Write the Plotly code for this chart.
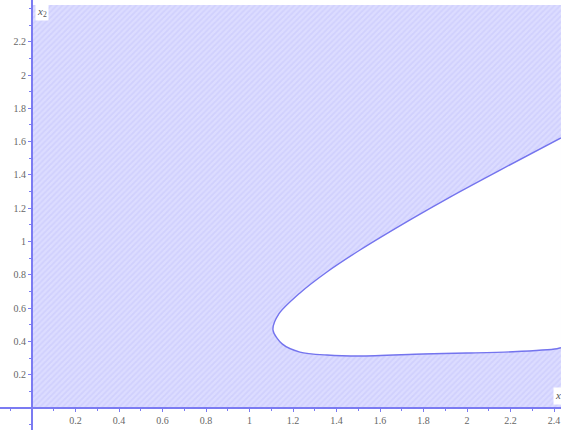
import plotly.graph_objects as go

# Boundary of the excluded (white) region:
# lower branch (right -> nose) then upper branch (nose -> right)
boundary_x = [2.432, 2.414, 2.211, 2.0, 1.798, 1.508, 1.356, 1.232, 1.150, 1.108,
              1.135, 1.232, 1.356, 1.508, 1.738, 1.922, 2.152, 2.432]
boundary_y = [0.362, 0.356, 0.338, 0.330, 0.324, 0.312, 0.318, 0.336, 0.385, 0.468,
              0.565, 0.691, 0.817, 0.949, 1.130, 1.267, 1.429, 1.622]

x_min, x_max = 0.0, 2.432
y_min, y_max = 0.0, 2.42

x_ticks = [0.2, 0.4, 0.6, 0.8, 1, 1.2, 1.4, 1.6, 1.8, 2, 2.2, 2.4]
y_ticks = [0.2, 0.4, 0.6, 0.8, 1, 1.2, 1.4, 1.6, 1.8, 2, 2.2]

fig = go.Figure()
# box (feasible background) drawn as a hatched filled polygon
box_x = [x_min, x_max, x_max, x_min, x_min]
box_y = [y_min, y_min, y_max, y_max, y_min]
fig.add_trace(go.Scatter(
    x=box_x, y=box_y, mode="lines", fill="toself",
    line=dict(width=0), fillcolor="#dcdcff",
    fillpattern=dict(shape="/", bgcolor="#dcdcff", fgcolor="#c4c4fb", size=4, solidity=0.45),
    hoverinfo="skip", showlegend=False))
# excluded region in white, with the boundary curve
fig.add_trace(go.Scatter(
    x=boundary_x, y=boundary_y, mode="lines", fill="toself", fillcolor="white",
    line=dict(color="#7474ee", width=1.4, shape="spline", smoothing=0.8),
    hoverinfo="skip", showlegend=False))

xr = [-32/217.5, (561-32)/217.5]
yr = [(408-430)/166.5, 408/166.5]
axis_col = "#7b7bf2"
tickfont = dict(family="Liberation Serif, serif", size=10, color="#666666")

fig.update_layout(
    width=561, height=430, margin=dict(l=0, r=0, t=0, b=0),
    paper_bgcolor="white", plot_bgcolor="white",
    xaxis=dict(range=xr, showgrid=False, zeroline=False, anchor="free",
               position=(430-408)/430, showline=True, linecolor=axis_col, linewidth=2,
               tickvals=x_ticks, ticks="outside", ticklen=3, tickcolor=axis_col,
               tickfont=tickfont,
               minor=dict(dtick=0.1, tick0=0, ticks="outside", ticklen=2, tickcolor=axis_col)),
    yaxis=dict(range=yr, showgrid=False, zeroline=False, anchor="free",
               position=32/561, showline=True, linecolor=axis_col, linewidth=2,
               tickvals=y_ticks, ticks="outside", ticklen=3, tickcolor=axis_col,
               tickfont=tickfont,
               minor=dict(dtick=0.1, tick0=0, ticks="outside", ticklen=2, tickcolor=axis_col)),
    annotations=[
        dict(x=0, y=yr[1], xref="x", yref="y", text="<i>x</i><sub>2</sub>", showarrow=False,
             xanchor="left", yanchor="top", xshift=3, yshift=-3, bgcolor="white",
             font=dict(family="Liberation Serif, serif", size=11, color="#555555")),
        dict(x=xr[1], y=0, xref="x", yref="y", text="<i>x</i><sub>1</sub>", showarrow=False,
             xanchor="left", yanchor="bottom", xshift=-8, yshift=3, bgcolor="white",
             font=dict(family="Liberation Serif, serif", size=11, color="#555555")),
    ],
)

fig.write_html("out.html")
